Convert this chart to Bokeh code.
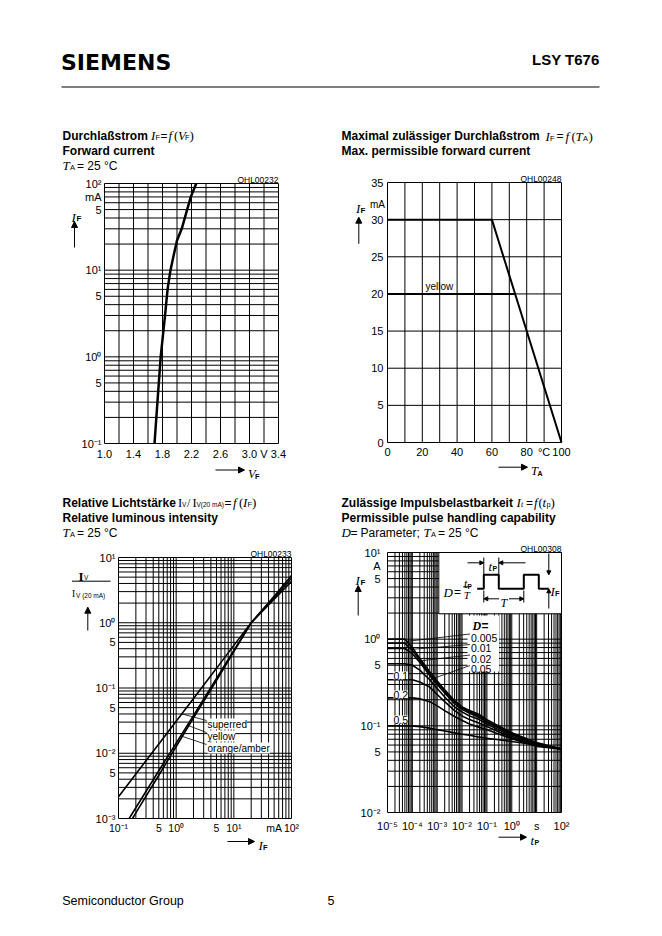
import numpy as np
from bokeh.plotting import figure
from bokeh.models import (Range1d, LinearScale, LogScale, FixedTicker, Label, Arrow, NormalHead,
                          CustomJSTickFormatter, LinearAxis, LogAxis)
from bokeh.embed import file_html
from bokeh.resources import INLINE

SANS = "Liberation Sans"
SERIF = "Liberation Serif"

# ---------------- data ----------------
# Chart 1: forward current I_F (mA) vs forward voltage V_F (V), T_A = 25 C
VF1 = [1.69, 1.73, 1.775, 1.835, 1.87, 1.91, 1.955, 2.00, 2.065, 2.14, 2.19, 2.265]
IF1 = [0.1, 0.3, 1, 3, 6, 10, 15, 22, 30, 50, 70, 100]
VF1_TICKS = [1.0, 1.4, 1.8, 2.2, 2.6, 3.0, 3.2, 3.4]
VF1_LABELS = ["1.0", "1.4", "1.8", "2.2", "2.6", "3.0", "V", "3.4"]
VF1_GRID = [1.0, 1.2, 1.4, 1.6, 1.8, 2.0, 2.2, 2.4, 2.6, 2.8, 3.0, 3.2, 3.4]
IF1_TICKS = [0.1, 0.5, 1, 5, 10, 50, 70, 100]
IF1_LABELS = ["10⁻¹", "5", "10⁰", "5", "10¹", "5", "mA", "10²"]

# Chart 2: max permissible forward current vs ambient temperature
TA2 = [0, 60, 100]
IF2 = [30, 30, 0]
TA2_YELLOW = [0, 73.3]
IF2_YELLOW = [20, 20]
TA2_TICKS = [0, 20, 40, 60, 80, 90, 100]
TA2_LABELS = ["0", "20", "40", "60", "80", "°C", "100"]
TA2_GRID = [0, 10, 20, 30, 40, 50, 60, 70, 80, 90, 100]
IF2_TICKS = [0, 5, 10, 15, 20, 25, 30, 35]
IF2_LABELS = ["0", "5", "10", "15", "20", "25", "30", "35"]

# Chart 3: relative luminous intensity vs forward current
IF3_SUPERRED = [0.1, 0.2, 0.5, 1, 2, 5, 10, 20, 50, 100]
IV3_SUPERRED = [0.00215, 0.0048, 0.0139, 0.031, 0.069, 0.20, 0.45, 1.0, 2.3, 4.3]
IF3_YELLOW = [0.175, 0.2, 0.5, 1, 2, 5, 10, 20, 50, 100]
IV3_YELLOW = [0.001, 0.00122, 0.0046, 0.0127, 0.035, 0.13, 0.36, 1.0, 2.45, 4.8]
IF3_ORANGE = [0.153, 0.2, 0.5, 1, 2, 5, 10, 20, 50, 100]
IV3_ORANGE = [0.001, 0.00146, 0.0054, 0.0143, 0.038, 0.14, 0.375, 1.0, 2.55, 5.3]
IF3_TICKS = [0.1, 0.5, 1, 5, 10, 50, 100]
IF3_LABELS = ["10⁻¹", "5", "10⁰", "5", "10¹", "mA", "10²"]
IV3_TICKS = [0.001, 0.005, 0.01, 0.05, 0.1, 0.5, 1, 10]
IV3_LABELS = ["10⁻³", "5", "10⁻²", "5", "10⁻¹", "5", "10⁰", "10¹"]

# Chart 4: permissible pulse handling capability, I_F (A) vs t_p (s)
TP4 = [1e-5, 5e-5, 1e-4, 2e-4, 5e-4, 1e-3, 2e-3, 5e-3, 1e-2, 2e-2, 5e-2, 1e-1, 1, 10, 100]
IF4_D0005 = [1.0, 1.0, 0.80, 0.60, 0.42, 0.33, 0.26, 0.195, 0.165, 0.15, 0.135, 0.118, 0.083, 0.064, 0.054]
IF4_D001 = [0.9, 0.9, 0.74, 0.57, 0.40, 0.315, 0.25, 0.19, 0.16, 0.145, 0.13, 0.113, 0.081, 0.063, 0.054]
IF4_D002 = [0.78, 0.78, 0.68, 0.54, 0.38, 0.30, 0.24, 0.18, 0.155, 0.14, 0.125, 0.11, 0.079, 0.062, 0.054]
IF4_D005 = [0.52, 0.52, 0.50, 0.44, 0.34, 0.27, 0.215, 0.165, 0.145, 0.13, 0.118, 0.105, 0.076, 0.060, 0.054]
IF4_D01 = [0.34, 0.34, 0.34, 0.32, 0.28, 0.23, 0.19, 0.15, 0.13, 0.118, 0.107, 0.098, 0.073, 0.059, 0.054]
IF4_D02 = [0.21, 0.21, 0.21, 0.205, 0.19, 0.17, 0.15, 0.128, 0.115, 0.105, 0.096, 0.09, 0.071, 0.058, 0.054]
IF4_D05 = [0.10, 0.10, 0.10, 0.098, 0.094, 0.09, 0.087, 0.083, 0.08, 0.078, 0.074, 0.072, 0.066, 0.060, 0.054]
TP4_TICKS = [1e-5, 1e-4, 1e-3, 1e-2, 1e-1, 1, 10, 100]
TP4_LABELS = ["10⁻⁵", "10⁻⁴", "10⁻³", "10⁻²", "10⁻¹", "10⁰", "s", "10²"]
IF4_TICKS = [0.01, 0.05, 0.1, 0.5, 1, 5, 7, 10]
IF4_LABELS = ["10⁻²", "5", "10⁻¹", "5", "10⁰", "5", "A", "10¹"]

JS_FMT = """
for (let i = 0; i < vals.length; i++) {
  if (Math.abs(tick - vals[i]) <= 1e-6 * Math.abs(vals[i]) + 1e-12) { return labs[i]; }
}
return "";
"""

W, H = 662, 936
p = figure(width=W, height=H, x_range=Range1d(0, W), y_range=Range1d(H, 0),
           x_axis_location=None, y_axis_location=None, min_border=0,
           output_backend="svg", toolbar_location=None)
p.grid.visible = False
p.xgrid.grid_line_color = None
p.ygrid.grid_line_color = None
p.outline_line_color = None
p.background_fill_color = "white"
p.border_fill_color = "white"

charts = {}
XR, YR, XS, YS = {}, {}, {}, {}


def fwd(v, log):
    return np.log10(v) if log else v


def register(name, frame, xr, yr, xlog, ylog):
    L, T_, R, B = frame
    a, b = fwd(xr[0], xlog), fwd(xr[1], xlog)
    k = (R - L) / (b - a)
    s, e = a - L / k, b + (W - R) / k
    if xlog:
        s, e = 10 ** s, 10 ** e
    XR[name] = Range1d(s, e)
    XS[name] = LogScale() if xlog else LinearScale()
    a, b = fwd(yr[0], ylog), fwd(yr[1], ylog)
    k = (B - T_) / (b - a)
    s, e = a - (H - B) / k, b + T_ / k
    if ylog:
        s, e = 10 ** s, 10 ** e
    YR[name] = Range1d(s, e)
    YS[name] = LogScale() if ylog else LinearScale()
    charts[name] = (frame, xr, yr, xlog, ylog)


def to_page(name, x, y):
    (L, T_, R, B), xr, yr, xlog, ylog = charts[name]
    fx = (fwd(x, xlog) - fwd(xr[0], xlog)) / (fwd(xr[1], xlog) - fwd(xr[0], xlog))
    fy = (fwd(y, ylog) - fwd(yr[0], ylog)) / (fwd(yr[1], ylog) - fwd(yr[0], ylog))
    return L + fx * (R - L), B - fy * (B - T_)


def log_lines(e0, e1):
    out = []
    for e in range(e0, e1):
        for m in range(1, 10):
            out.append(m * 10.0 ** e)
    out.append(10.0 ** e1)
    return out


def axis(name, dim, ticks, labels, standoff, size="11px"):
    frame, xr, yr, xlog, ylog = charts[name]
    log = xlog if dim == 0 else ylog
    cls = LogAxis if log else LinearAxis
    ax = cls(x_range_name=name, y_range_name=name,
             fixed_location=(yr[0] if dim == 0 else xr[0]),
             bounds=(xr if dim == 0 else yr),
             ticker=FixedTicker(ticks=list(ticks)),
             formatter=CustomJSTickFormatter(args=dict(vals=list(ticks), labs=list(labels)), code=JS_FMT),
             axis_line_color=None, major_tick_line_color=None, minor_tick_line_color=None,
             major_tick_out=0, major_tick_in=0, minor_tick_out=0, minor_tick_in=0,
             major_label_standoff=standoff, major_label_text_font=SANS,
             major_label_text_font_size=size, major_label_text_color="black")
    p.add_layout(ax, "below" if dim == 0 else "left")


def grid(name, xg, yg):
    frame, xr, yr, xlog, ylog = charts[name]
    p.segment(x0=xg, y0=[yr[0]] * len(xg), x1=xg, y1=[yr[1]] * len(xg),
              x_range_name=name, y_range_name=name, line_color="black", line_width=1)
    p.segment(x0=[xr[0]] * len(yg), y0=yg, x1=[xr[1]] * len(yg), y1=yg,
              x_range_name=name, y_range_name=name, line_color="black", line_width=1)


def T(x, y, s, size=12, font=SANS, style="normal", align="left", baseline="alphabetic", bg=None):
    kw = dict(x=x, y=y, text=s, text_font=font, text_font_size=f"{size}px", text_font_style=style,
              text_align=align, text_baseline=baseline, text_color="black")
    if bg is not None:
        kw["background_fill_color"] = bg
    p.add_layout(Label(**kw))


def A(x0, y0, x1, y1, head=6, lw=1):
    p.add_layout(Arrow(end=NormalHead(size=head, fill_color="black", line_color="black", line_width=1),
                       x_start=x0, y_start=y0, x_end=x1, y_end=y1, line_width=lw, line_color="black"))


def rich(y, parts):
    for x, s, font, size, style, dy in parts:
        T(x, y + dy, s, size=size, font=font, style=style)


def ta_line(x, y):
    rich(y, [(x, "T", SERIF, 13, "italic", 0),
             (x + 7.5, "A", SANS, 7.5, "normal", 2),
             (x + 14.5, "= 25 °C", SANS, 12, "normal", 0)])


def interp_log(xs, ys, x):
    return float(10 ** np.interp(np.log10(x), np.log10(xs), np.log10(ys)))


register("c1", (104, 183, 278, 443), (1.0, 3.4), (0.1, 100), False, True)
register("c2", (387, 182, 561, 442), (0, 100), (0, 35), False, False)
register("c3", (118, 557, 291, 818), (0.1, 100), (0.001, 10), True, True)
register("c4", (387, 552, 561, 812), (1e-5, 100), (0.01, 10), True, True)
p.extra_x_ranges = XR
p.extra_y_ranges = YR
p.extra_x_scales = XS
p.extra_y_scales = YS

# ---------------- header / footer ----------------
T(60.5, 62, "SIEMENS", size=22, font="DejaVu Sans", style="bold")
T(599, 58.5, "LSY T676", size=15, style="bold", align="right")
p.segment(x0=[61], y0=[86.5], x1=[599], y1=[86.5], line_color="black", line_width=1.2)
T(61.7, 900, "Semiconductor Group", size=12.5)
T(330.5, 900, "5", size=12.5, align="center")

# ---------------- chart 1 ----------------
grid("c1", VF1_GRID, log_lines(-1, 2))
axis("c1", 0, VF1_TICKS, VF1_LABELS, 4)
axis("c1", 1, IF1_TICKS, IF1_LABELS, 3)
p.line(VF1, IF1, x_range_name="c1", y_range_name="c1", line_width=2.5, line_color="black")
rich(135, [(62, "Durchlaßstrom", SANS, 12, "bold", 0),
           (150.5, "I", SERIF, 13, "italic", 0), (155, "F", SANS, 7.5, "normal", 2),
           (160, "=", SANS, 12, "normal", 0), (168, "f", SERIF, 13, "italic", 0),
           (173.5, "(", SERIF, 13, "normal", 0), (177.5, "V", SERIF, 13, "italic", 0),
           (184.5, "F", SANS, 7.5, "normal", 2), (189, ")", SERIF, 13, "normal", 0)])
T(62, 150, "Forward current", style="bold")
ta_line(62, 165)
T(278, 179.5, "OHL00232", size=8.5, align="right")
rich(216.5, [(71, "I", SERIF, 13, "italic", 0), (76, "F", SANS, 8, "bold", 1)])
A(74, 247, 74, 221)
A(215, 469.5, 244, 469.5)
rich(473.5, [(247.5, "V", SERIF, 12.5, "italic", 0), (254.5, "F", SANS, 7.5, "bold", 2)])

# ---------------- chart 2 ----------------
grid("c2", TA2_GRID, IF2_TICKS)
axis("c2", 0, TA2_TICKS, TA2_LABELS, 3)
axis("c2", 1, IF2_TICKS, IF2_LABELS, 4)
p.line(TA2, IF2, x_range_name="c2", y_range_name="c2", line_width=2, line_color="black")
p.line(TA2_YELLOW, IF2_YELLOW, x_range_name="c2", y_range_name="c2", line_width=2, line_color="black")
rich(135.5, [(341, "Maximal zulässiger Durchlaßstrom", SANS, 12, "bold", 0),
             (545, "I", SERIF, 13, "italic", 0), (549.5, "F", SANS, 7.5, "normal", 2),
             (556, "=", SANS, 12, "normal", 0), (565, "f", SERIF, 13, "italic", 0),
             (571, "(", SERIF, 13, "normal", 0), (575, "T", SERIF, 13, "italic", 0),
             (582.5, "A", SANS, 7.5, "normal", 2), (588, ")", SERIF, 13, "normal", 0)])
T(341, 150.5, "Max. permissible forward current", style="bold")
T(561, 178.5, "OHL00248", size=8.5, align="right")
rich(207.5, [(355.5, "I", SERIF, 13, "italic", 0), (360, "F", SANS, 8, "bold", 2)])
T(369.5, 203.5, "mA", size=10)
A(358.3, 243.3, 358.3, 216.7)
A(498, 466.7, 527, 466.7)
rich(470.5, [(530.5, "T", SERIF, 12.5, "italic", 0), (537, "A", SANS, 7, "bold", 2)])
T(425, 285.5, "yellow", size=10)

# ---------------- chart 3 ----------------
grid("c3", log_lines(-1, 2), log_lines(-3, 1))
axis("c3", 0, IF3_TICKS, IF3_LABELS, 3, size="10.5px")
axis("c3", 1, IV3_TICKS, IV3_LABELS, 3)
for xs, ys in [(IF3_SUPERRED, IV3_SUPERRED), (IF3_YELLOW, IV3_YELLOW), (IF3_ORANGE, IV3_ORANGE)]:
    p.line(xs, ys, x_range_name="c3", y_range_name="c3", line_width=1.6, line_color="black")
lead3 = [("superred", IF3_SUPERRED, IV3_SUPERRED, 1.25, 723.5),
         ("yellow", IF3_YELLOW, IV3_YELLOW, 1.65, 735.5),
         ("orange/amber", IF3_ORANGE, IV3_ORANGE, 1.2, 747.5)]
for name, xs, ys, at, yb in lead3:
    sx, sy = to_page("c3", at, interp_log(xs, ys, at))
    p.segment(x0=[sx], y0=[sy], x1=[206], y1=[yb - 3.5], line_color="black", line_width=0.8)
for name, xs, ys, at, yb in lead3:
    T(207, yb, name, size=10, bg="white")
rich(502, [(62, "Relative Lichtstärke", SANS, 12, "bold", 0),
           (177.5, "I", SERIF, 12.5, "normal", 0), (181.5, "V", SANS, 6.5, "normal", 2),
           (186.5, "/", SERIF, 12, "normal", 0), (192, "I", SERIF, 12.5, "normal", 0),
           (196, "V(20 mA)", SANS, 6.5, "normal", 2),
           (224, "=", SANS, 12, "normal", 0), (232.5, "f", SERIF, 13, "italic", 0),
           (238.5, "(", SERIF, 13, "normal", 0), (242.5, "I", SERIF, 13, "italic", 0),
           (247, "F", SANS, 7.5, "normal", 2), (251.5, ")", SERIF, 13, "normal", 0)])
T(62, 517, "Relative luminous intensity", style="bold")
ta_line(62, 532)
T(291, 553.5, "OHL00233", size=8.5, align="right")
rich(576, [(78, "I", SERIF, 13, "bold", 0), (83.5, "V", SANS, 6.5, "normal", 1)])
p.segment(x0=[71.5], y0=[580.7], x1=[110], y1=[580.7], line_color="black", line_width=1)
rich(593.5, [(71.5, "I", SERIF, 9.5, "normal", 0), (75.5, "V (20 mA)", SANS, 6.5, "normal", 1)])
A(87.3, 630, 87.3, 606.7)
A(227, 841, 254, 841)
rich(845, [(258, "I", SERIF, 13, "italic", 0), (262.5, "F", SANS, 7.5, "bold", 2)])

# ---------------- chart 4 ----------------
grid("c4", log_lines(-5, 2), log_lines(-2, 1))
axis("c4", 0, TP4_TICKS, TP4_LABELS, 7)
axis("c4", 1, IF4_TICKS, IF4_LABELS, 7)
# inset with pulse diagram (drawn over the grid)
p.quad(left=[438.3], right=[561], top=[552], bottom=[613.3], fill_color="white",
       line_color="black", line_width=1)
WAVE_X = [476.7, 483.3, 483.3, 498.3, 498.3, 523.3, 523.3, 538.3, 538.3, 548.3]
WAVE_Y = [588.3, 588.3, 574.3, 574.3, 588.3, 588.3, 574.3, 574.3, 588.3, 588.3]
p.line(WAVE_X, WAVE_Y, line_width=2, line_color="black")
p.segment(x0=[483.3, 498.3, 483.3, 523.3], y0=[557, 557, 590, 590],
          x1=[483.3, 498.3, 483.3, 523.3], y1=[574.3, 574.3, 602, 602],
          line_color="black", line_width=1)
A(467, 562.3, 483.3, 562.3, head=4)
A(525, 562.3, 498.3, 562.3, head=4)
A(498.5, 598.3, 483.3, 598.3, head=4)
A(508.5, 598.3, 523.3, 598.3, head=4)
A(548.3, 553, 548.3, 574.3, head=4)
A(548.3, 608, 548.3, 588.3, head=4)
rich(565.5, [(488, "t", SERIF, 13, "italic", 0), (492, "P", SANS, 7, "bold", 2)])
T(503.3, 602.5, "T", size=12, font=SERIF, style="italic", align="center")
rich(590.5, [(550, "I", SERIF, 13, "italic", 0), (554.5, "F", SANS, 7.5, "bold", 2)])
rich(591.5, [(443, "D", SERIF, 13, "italic", 0), (453.5, "=", SANS, 12, "normal", 0)])
rich(583.5, [(463.5, "t", SERIF, 12, "italic", 0), (467, "P", SANS, 6.5, "bold", 2)])
p.segment(x0=[462.7], y0=[586.3], x1=[470.7], y1=[586.3], line_color="black", line_width=1)
T(463.3, 594, "T", size=11, font=SERIF, style="italic")
# D legend box
p.quad(left=[467], right=[498.5], top=[615], bottom=[671], fill_color="white", line_color=None)
for ys in [IF4_D0005, IF4_D001, IF4_D002, IF4_D005, IF4_D01, IF4_D02, IF4_D05]:
    p.line(TP4, ys, x_range_name="c4", y_range_name="c4", line_width=1.6, line_color="black")
rich(625, [(472, "D", SERIF, 12, "bold italic", 0), (481, "=", SANS, 12, "bold", 0)])
lead4 = [(IF4_D0005, 6e-5, "0.005", 637), (IF4_D001, 9e-5, "0.01", 647.5),
         (IF4_D002, 1.8e-4, "0.02", 658), (IF4_D005, 5e-4, "0.05", 668.5)]
for ys, at, name, yb in lead4:
    sx, sy = to_page("c4", at, interp_log(TP4, ys, at))
    p.segment(x0=[sx], y0=[sy], x1=[469.5], y1=[yb - 3.5], line_color="black", line_width=0.8)
    T(470.5, yb, name, size=10.5)
for name, yb in [("0.1", 675), ("0.2", 694), ("0.5", 719)]:
    T(393, yb, name, size=10.5, bg="white")
rich(502, [(341, "Zulässige Impulsbelastbarkeit", SANS, 12, "bold", 0),
           (516, "I", SERIF, 13, "italic", 0), (520.5, "t", SERIF, 8, "italic", 2),
           (525.5, "=", SANS, 12, "normal", 0), (533.5, "f", SERIF, 13, "italic", 0),
           (538, "(", SERIF, 13, "normal", 0), (542, "t", SERIF, 13, "italic", 0),
           (546, "p", SANS, 7.5, "normal", 2), (550, ")", SERIF, 13, "normal", 0)])
T(341, 517, "Permissible pulse handling capability", style="bold")
rich(532, [(341, "D", SERIF, 13, "italic", 0), (350, "=", SANS, 12, "normal", 0),
           (360, "Parameter;", SANS, 12, "normal", 0)])
ta_line(423, 532)
T(561, 548.5, "OHL00308", size=8.5, align="right")
rich(580, [(355, "I", SERIF, 13, "italic", 0), (360, "F", SANS, 8, "bold", 1.5)])
A(357.7, 615, 357.7, 585)
A(498, 836.7, 526, 836.7)
rich(840, [(530, "t", SERIF, 13, "italic", 0), (534, "P", SANS, 7, "bold", 2)])

open("out.html", "w").write(file_html(p, INLINE))
